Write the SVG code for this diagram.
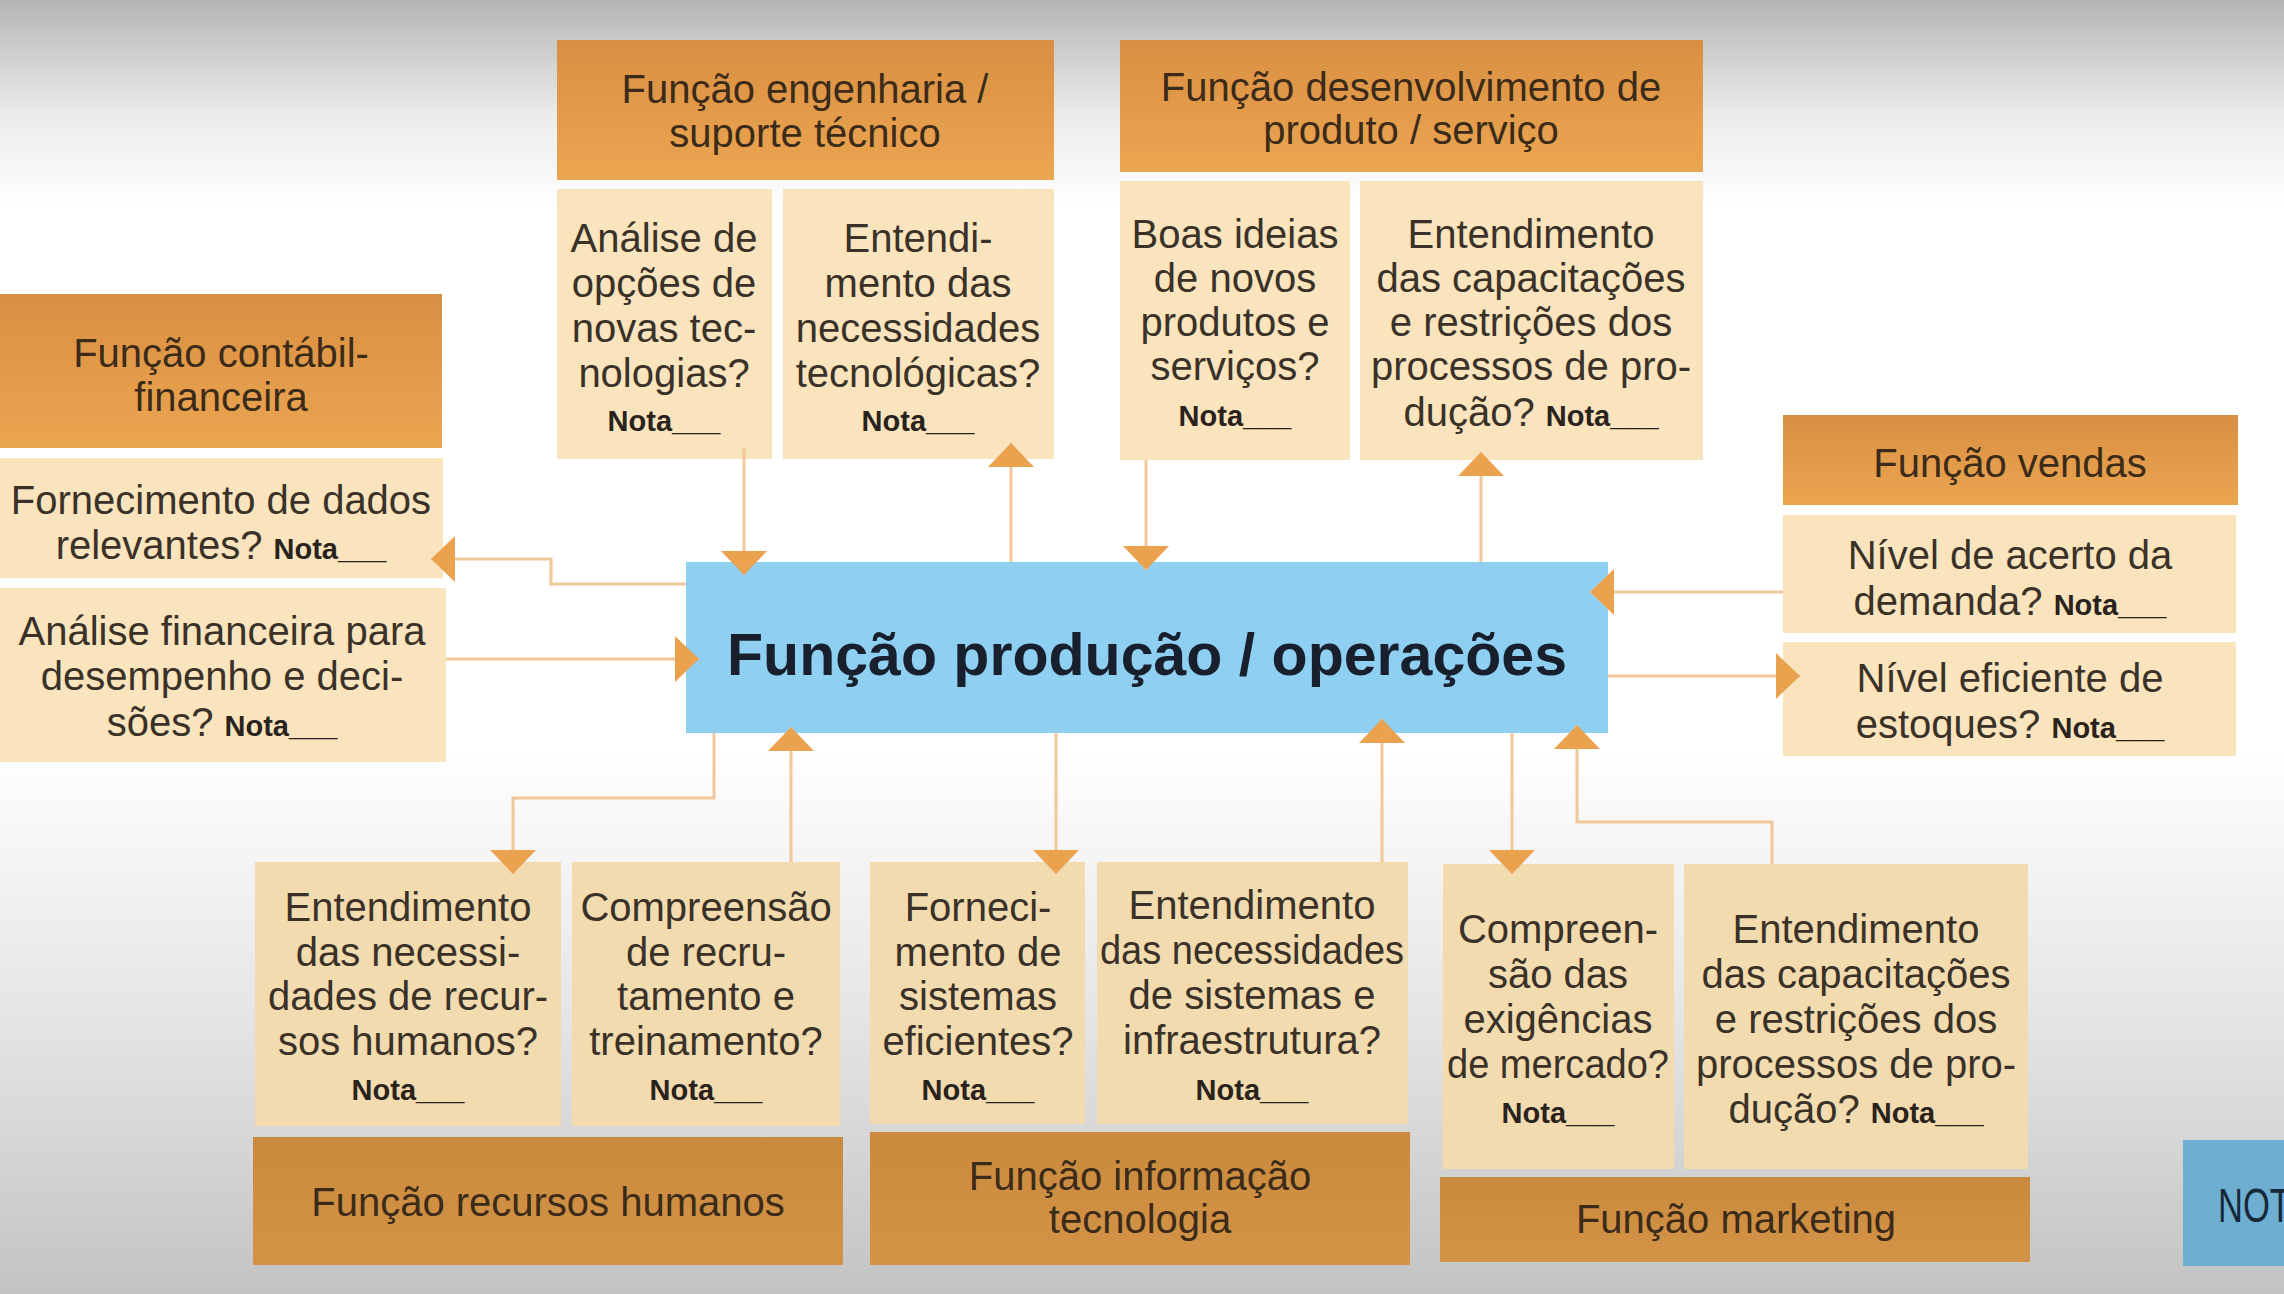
<svg xmlns="http://www.w3.org/2000/svg" width="2284" height="1294" viewBox="0 0 2284 1294">
<defs>
<linearGradient id="bg" x1="0" y1="0" x2="0" y2="1">
<stop offset="0" stop-color="#b5b5b5"/>
<stop offset="0.09" stop-color="#ececec"/>
<stop offset="0.16" stop-color="#ffffff"/>
<stop offset="0.58" stop-color="#ffffff"/>
<stop offset="0.8" stop-color="#e3e3e3"/>
<stop offset="1" stop-color="#c3c3c3"/>
</linearGradient>
<linearGradient id="hdrTop" x1="0" y1="0" x2="0" y2="1">
<stop offset="0" stop-color="#d98f42"/>
<stop offset="1" stop-color="#eba651"/>
</linearGradient>
<linearGradient id="hdrBot" x1="0" y1="0" x2="0" y2="1">
<stop offset="0" stop-color="#c98a3e"/>
<stop offset="1" stop-color="#d39447"/>
</linearGradient>
<marker id="ah" viewBox="0 0 24 46" refX="24" refY="23" markerUnits="userSpaceOnUse" markerWidth="24" markerHeight="46" orient="auto">
<path d="M0,0 L24,23 L0,46 Z" fill="#eba24f"/>
</marker>
<style>
.hdr{fill:url(#hdrTop);}
.hdrb{fill:url(#hdrBot);}
.cell{fill:#f9e4bd;}
.cellb{fill:#f2dbaf;}
.ctr{fill:#8fd0f2;}
.t{font-family:"Liberation Sans",Arial,sans-serif;font-size:40px;fill:#3a3128;text-anchor:middle;}
.th{font-family:"Liberation Sans",Arial,sans-serif;font-size:40px;fill:#3d2b1a;text-anchor:middle;}
.n{font-family:"Liberation Sans",Arial,sans-serif;font-weight:bold;font-size:29px;fill:#2a221c;}
.big{font-family:"Liberation Sans",Arial,sans-serif;font-weight:bold;font-size:60px;fill:#17202c;text-anchor:middle;}
.con{fill:none;stroke:#f0c89a;stroke-width:3;marker-end:url(#ah);}
</style>
</defs>
<rect x="0" y="0" width="2284" height="1294" fill="url(#bg)"/>

<g id="eng-header">
<rect class="hdr" x="557" y="40" width="497" height="140"/>
<text class="th" x="805" y="103">Função engenharia /</text>
<text class="th" x="805" y="147">suporte técnico</text>
</g>
<g id="eng-cell-1">
<rect class="cell" x="557" y="189" width="215" height="270"/>
<text class="t" x="664" y="252">Análise de</text>
<text class="t" x="664" y="297">opções de</text>
<text class="t" x="664" y="342">novas tec-</text>
<text class="t" x="664" y="387">nologias?</text>
<text class="t" x="664" y="431"><tspan class="n">Nota___</tspan></text>
</g>
<g id="eng-cell-2">
<rect class="cell" x="783" y="189" width="271" height="270"/>
<text class="t" x="918" y="252">Entendi-</text>
<text class="t" x="918" y="297">mento das</text>
<text class="t" x="918" y="342">necessidades</text>
<text class="t" x="918" y="387">tecnológicas?</text>
<text class="t" x="918" y="431"><tspan class="n">Nota___</tspan></text>
</g>

<g id="dev-header">
<rect class="hdr" x="1120" y="40" width="583" height="132"/>
<text class="th" x="1411" y="101">Função desenvolvimento de</text>
<text class="th" x="1411" y="144">produto / serviço</text>
</g>
<g id="dev-cell-1">
<rect class="cell" x="1120" y="181" width="230" height="279"/>
<text class="t" x="1235" y="248">Boas ideias</text>
<text class="t" x="1235" y="292">de novos</text>
<text class="t" x="1235" y="336">produtos e</text>
<text class="t" x="1235" y="380">serviços?</text>
<text class="t" x="1235" y="426"><tspan class="n">Nota___</tspan></text>
</g>
<g id="dev-cell-2">
<rect class="cell" x="1360" y="181" width="343" height="279"/>
<text class="t" x="1531" y="248">Entendimento</text>
<text class="t" x="1531" y="292">das capacitações</text>
<text class="t" x="1531" y="336">e restrições dos</text>
<text class="t" x="1531" y="380">processos de pro-</text>
<text class="t" x="1531" y="426">dução? <tspan class="n">Nota___</tspan></text>
</g>

<g id="cont-header">
<rect class="hdr" x="0" y="294" width="442" height="154"/>
<text class="th" x="221" y="367">Função contábil-</text>
<text class="th" x="221" y="411">financeira</text>
</g>
<g id="cont-cell-1">
<rect class="cell" x="0" y="458" width="443" height="120"/>
<text class="t" x="221" y="514">Fornecimento de dados</text>
<text class="t" x="221" y="559">relevantes? <tspan class="n">Nota___</tspan></text>
</g>
<g id="cont-cell-2">
<rect class="cell" x="0" y="588" width="446" height="174"/>
<text class="t" x="222" y="645">Análise financeira para</text>
<text class="t" x="222" y="690">desempenho e deci-</text>
<text class="t" x="222" y="736">sões? <tspan class="n">Nota___</tspan></text>
</g>

<g id="vendas-header">
<rect class="hdr" x="1783" y="415" width="455" height="90"/>
<text class="th" x="2010" y="477">Função vendas</text>
</g>
<g id="vendas-cell-1">
<rect class="cell" x="1783" y="515" width="453" height="118"/>
<text class="t" x="2010" y="569">Nível de acerto da</text>
<text class="t" x="2010" y="615">demanda? <tspan class="n">Nota___</tspan></text>
</g>
<g id="vendas-cell-2">
<rect class="cell" x="1783" y="642" width="453" height="114"/>
<text class="t" x="2010" y="692">Nível eficiente de</text>
<text class="t" x="2010" y="738">estoques? <tspan class="n">Nota___</tspan></text>
</g>

<g id="producao">
<rect class="ctr" x="686" y="562" width="922" height="171"/>
<text class="big" x="1147" y="675" textLength="840" lengthAdjust="spacingAndGlyphs">Função produção / operações</text>
</g>

<g id="rh-cell-1">
<rect class="cellb" x="255" y="862" width="306" height="264"/>
<text class="t" x="408" y="921">Entendimento</text>
<text class="t" x="408" y="966">das necessi-</text>
<text class="t" x="408" y="1010">dades de recur-</text>
<text class="t" x="408" y="1055">sos humanos?</text>
<text class="t" x="408" y="1100"><tspan class="n">Nota___</tspan></text>
</g>
<g id="rh-cell-2">
<rect class="cellb" x="572" y="862" width="268" height="264"/>
<text class="t" x="706" y="921">Compreensão</text>
<text class="t" x="706" y="966">de recru-</text>
<text class="t" x="706" y="1010">tamento e</text>
<text class="t" x="706" y="1055">treinamento?</text>
<text class="t" x="706" y="1100"><tspan class="n">Nota___</tspan></text>
</g>
<g id="rh-header">
<rect class="hdrb" x="253" y="1137" width="590" height="128"/>
<text class="th" x="548" y="1216">Função recursos humanos</text>
</g>

<g id="ti-cell-1">
<rect class="cellb" x="870" y="862" width="215" height="262"/>
<text class="t" x="978" y="921">Forneci-</text>
<text class="t" x="978" y="966">mento de</text>
<text class="t" x="978" y="1010">sistemas</text>
<text class="t" x="978" y="1055">eficientes?</text>
<text class="t" x="978" y="1100"><tspan class="n">Nota___</tspan></text>
</g>
<g id="ti-cell-2">
<rect class="cellb" x="1097" y="862" width="311" height="262"/>
<text class="t" x="1252" y="919">Entendimento</text>
<text class="t" x="1252" y="964" textLength="304" lengthAdjust="spacingAndGlyphs">das necessidades</text>
<text class="t" x="1252" y="1009">de sistemas e</text>
<text class="t" x="1252" y="1054">infraestrutura?</text>
<text class="t" x="1252" y="1100"><tspan class="n">Nota___</tspan></text>
</g>
<g id="ti-header">
<rect class="hdrb" x="870" y="1132" width="540" height="133"/>
<text class="th" x="1140" y="1190">Função informação</text>
<text class="th" x="1140" y="1233">tecnologia</text>
</g>

<g id="mkt-cell-1">
<rect class="cellb" x="1443" y="864" width="231" height="305"/>
<text class="t" x="1558" y="943">Compreen-</text>
<text class="t" x="1558" y="988">são das</text>
<text class="t" x="1558" y="1033">exigências</text>
<text class="t" x="1558" y="1078" textLength="222" lengthAdjust="spacingAndGlyphs">de mercado?</text>
<text class="t" x="1558" y="1123"><tspan class="n">Nota___</tspan></text>
</g>
<g id="mkt-cell-2">
<rect class="cellb" x="1684" y="864" width="344" height="305"/>
<text class="t" x="1856" y="943">Entendimento</text>
<text class="t" x="1856" y="988">das capacitações</text>
<text class="t" x="1856" y="1033">e restrições dos</text>
<text class="t" x="1856" y="1078">processos de pro-</text>
<text class="t" x="1856" y="1123">dução? <tspan class="n">Nota___</tspan></text>
</g>
<g id="mkt-header">
<rect class="hdrb" x="1440" y="1177" width="590" height="85"/>
<text class="th" x="1736" y="1233">Função marketing</text>
</g>

<g id="not-box">
<rect x="2183" y="1140" width="101" height="126" fill="#6eaed0"/>
<text transform="translate(2218,1222) scale(0.72,1)" font-family="Liberation Sans, Arial, sans-serif" font-size="48" fill="#16283a">NOT</text>
</g>

<g id="connectors">
<path class="con" d="M744 448 V575"/>
<path class="con" d="M1011 562 V443"/>
<path class="con" d="M1146 460 V570"/>
<path class="con" d="M1481 562 V452"/>
<path class="con" d="M686 584 H551 V559 H431"/>
<path class="con" d="M446 659 H699"/>
<path class="con" d="M1783 592 H1590"/>
<path class="con" d="M1608 676 H1800"/>
<path class="con" d="M714 733 V798 H513 V874"/>
<path class="con" d="M791 862 V727"/>
<path class="con" d="M1056 733 V874"/>
<path class="con" d="M1382 862 V719"/>
<path class="con" d="M1512 733 V874"/>
<path class="con" d="M1772 864 V822 H1577 V725"/>
</g>
</svg>
